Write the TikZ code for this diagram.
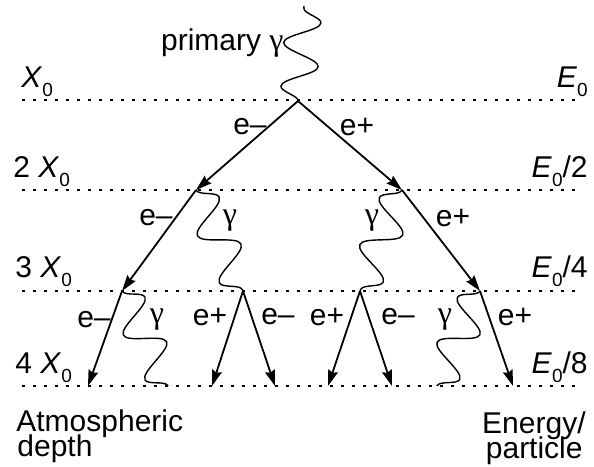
\documentclass[tikz,border=0pt]{standalone}
\usepackage{fontspec}
\setmainfont{Liberation Sans}
\newfontfamily\grego{Liberation Serif}
\usetikzlibrary{arrows.meta,decorations.pathmorphing}

\newcommand{\subzero}{\raisebox{-4.7pt}{\fontsize{9.5}{9.5}\selectfont 0}}
\newcommand{\Xz}{\textit{X}\subzero}
\newcommand{\Ez}{\textit{E}\subzero}
\newcommand{\gama}{{\grego\fontsize{16}{16}\selectfont γ}}

\begin{document}
\begin{tikzpicture}[x=0.5pt, y=-0.5pt,
  font=\fontsize{15}{18}\selectfont,
  particula/.style = {line width=0.9pt, -{Stealth[length=8pt,width=5pt,inset=1pt]}},
  foton/.style = {line width=0.7pt, decorate, decoration={snake, amplitude=9pt, segment length=#1}},
  fotonesp/.style = {line width=0.7pt, decorate, decoration={snake, amplitude=9pt, segment length=#1, mirror}},
  nivel/.style = {line width=0.8pt, dash pattern=on 1.5pt off 4pt},
  rotulo/.style = {inner sep=0pt}]
\useasboundingbox (0,0) rectangle (594,466);

% linhas de profundidade
\foreach \y in {100,190,291,386}
  \draw[nivel] (22,\y) -- (580,\y);

% vertices
\coordinate (src) at (304,6);
\coordinate (A) at (298,101);
\coordinate (B) at (196,190);
\coordinate (C) at (402,190);
\coordinate (D) at (122,291);
\coordinate (E) at (243,291);
\coordinate (F) at (360,291);
\coordinate (G) at (480,291);
\coordinate (D1) at (88,386);
\coordinate (D2) at (168,386);
\coordinate (E1) at (212,386);
\coordinate (E2) at (275,386);
\coordinate (F1) at (328,386);
\coordinate (F2) at (392,386);
\coordinate (G1) at (437,386);
\coordinate (G2) at (513,386);

\draw[foton=21.9pt] (A) -- (src);
\draw[particula] (A) -- (B);
\draw[particula] (A) -- (C);
\draw[particula] (B) -- (D);
\draw[foton=25.9pt] (B) -- (E);
\draw[fotonesp=25.4pt] (C) -- (F);
\draw[particula] (C) -- (G);
\draw[particula] (D) -- (D1);
\draw[foton=24.8pt] (D) -- (D2);
\draw[particula] (E) -- (E1);
\draw[particula] (E) -- (E2);
\draw[particula] (F) -- (F1);
\draw[particula] (F) -- (F2);
\draw[fotonesp=24.5pt] (G) -- (G1);
\draw[particula] (G) -- (G2);

% rotulos
\node[rotulo, anchor=base east] (prim) at (284,50) {primary \gama};

\node[rotulo, anchor=base west] (x1) at (21,87) {\Xz};
\node[rotulo, anchor=base west] (x2) at (13,177) {2 \Xz};
\node[rotulo, anchor=base west] (x3) at (15,277) {3 \Xz};
\node[rotulo, anchor=base west] (x4) at (15,373) {4 \Xz};

\node[rotulo, anchor=base east] (e1) at (588,87) {\Ez};
\node[rotulo, anchor=base east] (e2) at (588,177) {\Ez/2};
\node[rotulo, anchor=base east] (e3) at (588,277) {\Ez/4};
\node[rotulo, anchor=base east] (e4) at (588,373) {\Ez/8};

\node[rotulo] (la) at (250,127) {e–};
\node[rotulo] (lb) at (357,127) {e+};
\node[rotulo] (lc) at (156,218) {e–};
\node[rotulo] (ld) at (230,221) {\gama};
\node[rotulo] (le) at (372,221) {\gama};
\node[rotulo] (lf) at (453,218) {e+};
\node[rotulo] (lg) at (94,320) {e–};
\node[rotulo] (lh) at (157,320) {\gama};
\node[rotulo] (li) at (210,317) {e+};
\node[rotulo] (lj) at (278,317) {e–};
\node[rotulo] (lk) at (327,317) {e+};
\node[rotulo] (ll) at (398,317) {e–};
\node[rotulo] (lm) at (445,320) {\gama};
\node[rotulo] (ln) at (515,317) {e+};

\node[rotulo, anchor=base west] (prof1) at (16,431) {Atmospheric};
\node[rotulo, anchor=base west] (prof2) at (17,456) {depth};
\node[rotulo, anchor=base east] (ener1) at (586,433) {Energy/};
\node[rotulo, anchor=base east] (ener2) at (583,458) {particle};
\end{tikzpicture}
\end{document}
